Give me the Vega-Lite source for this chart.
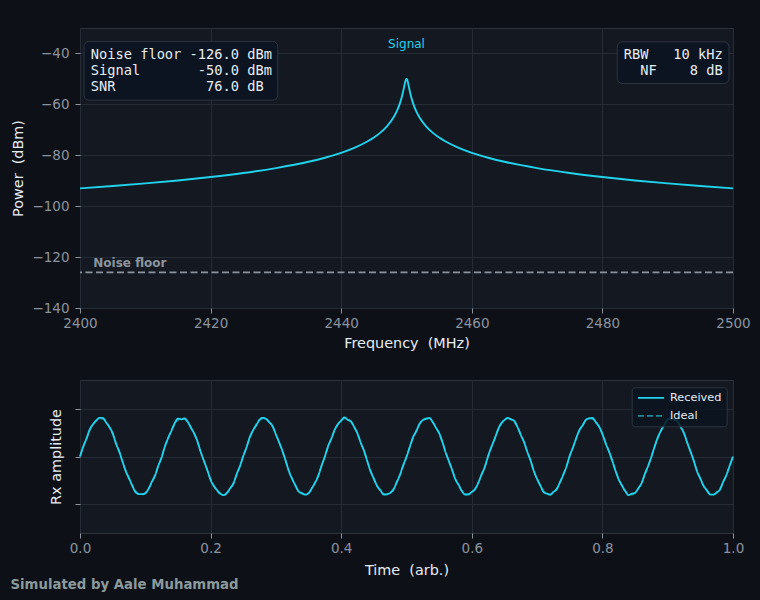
{
  "$schema": "https://vega.github.io/schema/vega-lite/v6.json",
  "background": "#0d1117",
  "padding": {"left": 10, "top": 27, "right": 10, "bottom": 10},
  "autosize": {"type": "pad"},
  "title": {
    "text": "Simulated by Aale Muhammad",
    "orient": "bottom",
    "anchor": "start",
    "frame": "bounds",
    "font": "DejaVu Sans",
    "fontSize": 13.3,
    "fontWeight": "bold",
    "color": "#8b9a9c",
    "offset": 1
  },
  "datasets": {
    "spectrum": [
      {"f": 2400, "p": -93.0}, {"f": 2405, "p": -92.09}, {"f": 2410, "p": -91.06},
      {"f": 2415, "p": -89.9}, {"f": 2420, "p": -88.56}, {"f": 2425, "p": -86.98},
      {"f": 2430, "p": -85.04}, {"f": 2435, "p": -82.55}, {"f": 2437.5, "p": -80.96},
      {"f": 2440, "p": -79.03}, {"f": 2442, "p": -77.09}, {"f": 2444, "p": -74.6},
      {"f": 2445, "p": -73.02}, {"f": 2446, "p": -71.1}, {"f": 2447, "p": -68.62},
      {"f": 2448, "p": -65.17}, {"f": 2448.5, "p": -62.78}, {"f": 2449, "p": -59.53},
      {"f": 2449.25, "p": -57.4}, {"f": 2449.5, "p": -54.76}, {"f": 2449.7, "p": -52.35},
      {"f": 2449.8, "p": -51.2}, {"f": 2449.9, "p": -50.33}, {"f": 2450, "p": -50.0},
      {"f": 2450.1, "p": -50.33}, {"f": 2450.2, "p": -51.2}, {"f": 2450.3, "p": -52.35},
      {"f": 2450.5, "p": -54.76}, {"f": 2450.75, "p": -57.4}, {"f": 2451, "p": -59.53},
      {"f": 2451.5, "p": -62.78}, {"f": 2452, "p": -65.17}, {"f": 2453, "p": -68.62},
      {"f": 2454, "p": -71.1}, {"f": 2455, "p": -73.02}, {"f": 2456, "p": -74.6},
      {"f": 2458, "p": -77.09}, {"f": 2460, "p": -79.03}, {"f": 2462.5, "p": -80.96},
      {"f": 2465, "p": -82.55}, {"f": 2470, "p": -85.04}, {"f": 2475, "p": -86.98},
      {"f": 2480, "p": -88.56}, {"f": 2485, "p": -89.9}, {"f": 2490, "p": -91.06},
      {"f": 2495, "p": -92.09}, {"f": 2500, "p": -93.0}
    ],
    "floor": [{"level": -126}],
    "wave": [
      {"t": 0.000, "Received": 0.000, "Ideal": 0.000},
      {"t": 0.005, "Received": 0.209, "Ideal": 0.199},
      {"t": 0.010, "Received": 0.375, "Ideal": 0.385},
      {"t": 0.015, "Received": 0.568, "Ideal": 0.548},
      {"t": 0.020, "Received": 0.675, "Ideal": 0.675},
      {"t": 0.025, "Received": 0.751, "Ideal": 0.761},
      {"t": 0.030, "Received": 0.808, "Ideal": 0.798},
      {"t": 0.035, "Received": 0.806, "Ideal": 0.786},
      {"t": 0.040, "Received": 0.714, "Ideal": 0.724},
      {"t": 0.045, "Received": 0.616, "Ideal": 0.616},
      {"t": 0.050, "Received": 0.490, "Ideal": 0.470},
      {"t": 0.055, "Received": 0.274, "Ideal": 0.294},
      {"t": 0.060, "Received": 0.110, "Ideal": 0.100},
      {"t": 0.065, "Received": -0.100, "Ideal": -0.100},
      {"t": 0.070, "Received": -0.304, "Ideal": -0.294},
      {"t": 0.075, "Received": -0.450, "Ideal": -0.470},
      {"t": 0.080, "Received": -0.606, "Ideal": -0.616},
      {"t": 0.085, "Received": -0.744, "Ideal": -0.724},
      {"t": 0.090, "Received": -0.786, "Ideal": -0.786},
      {"t": 0.095, "Received": -0.788, "Ideal": -0.798},
      {"t": 0.100, "Received": -0.771, "Ideal": -0.761},
      {"t": 0.105, "Received": -0.675, "Ideal": -0.675},
      {"t": 0.110, "Received": -0.528, "Ideal": -0.548},
      {"t": 0.115, "Received": -0.395, "Ideal": -0.385},
      {"t": 0.120, "Received": -0.189, "Ideal": -0.199},
      {"t": 0.125, "Received": -0.020, "Ideal": 0.000},
      {"t": 0.130, "Received": 0.209, "Ideal": 0.199},
      {"t": 0.135, "Received": 0.385, "Ideal": 0.385},
      {"t": 0.140, "Received": 0.538, "Ideal": 0.548},
      {"t": 0.145, "Received": 0.695, "Ideal": 0.675},
      {"t": 0.150, "Received": 0.791, "Ideal": 0.761},
      {"t": 0.155, "Received": 0.778, "Ideal": 0.798},
      {"t": 0.160, "Received": 0.796, "Ideal": 0.786},
      {"t": 0.165, "Received": 0.724, "Ideal": 0.724},
      {"t": 0.170, "Received": 0.596, "Ideal": 0.616},
      {"t": 0.175, "Received": 0.480, "Ideal": 0.470},
      {"t": 0.180, "Received": 0.314, "Ideal": 0.294},
      {"t": 0.185, "Received": 0.090, "Ideal": 0.100},
      {"t": 0.190, "Received": -0.100, "Ideal": -0.100},
      {"t": 0.195, "Received": -0.284, "Ideal": -0.294},
      {"t": 0.200, "Received": -0.490, "Ideal": -0.470},
      {"t": 0.205, "Received": -0.616, "Ideal": -0.616},
      {"t": 0.210, "Received": -0.704, "Ideal": -0.724},
      {"t": 0.215, "Received": -0.776, "Ideal": -0.786},
      {"t": 0.220, "Received": -0.808, "Ideal": -0.798},
      {"t": 0.225, "Received": -0.761, "Ideal": -0.761},
      {"t": 0.230, "Received": -0.665, "Ideal": -0.675},
      {"t": 0.235, "Received": -0.568, "Ideal": -0.548},
      {"t": 0.240, "Received": -0.365, "Ideal": -0.385},
      {"t": 0.245, "Received": -0.199, "Ideal": -0.199},
      {"t": 0.250, "Received": 0.010, "Ideal": 0.000},
      {"t": 0.255, "Received": 0.189, "Ideal": 0.199},
      {"t": 0.260, "Received": 0.405, "Ideal": 0.385},
      {"t": 0.265, "Received": 0.548, "Ideal": 0.548},
      {"t": 0.270, "Received": 0.655, "Ideal": 0.675},
      {"t": 0.275, "Received": 0.771, "Ideal": 0.761},
      {"t": 0.280, "Received": 0.808, "Ideal": 0.798},
      {"t": 0.285, "Received": 0.786, "Ideal": 0.786},
      {"t": 0.290, "Received": 0.714, "Ideal": 0.724},
      {"t": 0.295, "Received": 0.636, "Ideal": 0.616},
      {"t": 0.300, "Received": 0.460, "Ideal": 0.470},
      {"t": 0.305, "Received": 0.294, "Ideal": 0.294},
      {"t": 0.310, "Received": 0.120, "Ideal": 0.100},
      {"t": 0.315, "Received": -0.090, "Ideal": -0.100},
      {"t": 0.320, "Received": -0.314, "Ideal": -0.294},
      {"t": 0.325, "Received": -0.470, "Ideal": -0.470},
      {"t": 0.330, "Received": -0.606, "Ideal": -0.616},
      {"t": 0.335, "Received": -0.734, "Ideal": -0.724},
      {"t": 0.340, "Received": -0.766, "Ideal": -0.786},
      {"t": 0.345, "Received": -0.798, "Ideal": -0.798},
      {"t": 0.350, "Received": -0.771, "Ideal": -0.761},
      {"t": 0.355, "Received": -0.665, "Ideal": -0.675},
      {"t": 0.360, "Received": -0.548, "Ideal": -0.548},
      {"t": 0.365, "Received": -0.405, "Ideal": -0.385},
      {"t": 0.370, "Received": -0.189, "Ideal": -0.199},
      {"t": 0.375, "Received": 0.000, "Ideal": 0.000},
      {"t": 0.380, "Received": 0.219, "Ideal": 0.199},
      {"t": 0.385, "Received": 0.375, "Ideal": 0.385},
      {"t": 0.390, "Received": 0.558, "Ideal": 0.548},
      {"t": 0.395, "Received": 0.675, "Ideal": 0.675},
      {"t": 0.400, "Received": 0.751, "Ideal": 0.761},
      {"t": 0.405, "Received": 0.818, "Ideal": 0.798},
      {"t": 0.410, "Received": 0.766, "Ideal": 0.786},
      {"t": 0.415, "Received": 0.734, "Ideal": 0.724},
      {"t": 0.420, "Received": 0.616, "Ideal": 0.616},
      {"t": 0.425, "Received": 0.480, "Ideal": 0.470},
      {"t": 0.430, "Received": 0.284, "Ideal": 0.294},
      {"t": 0.435, "Received": 0.120, "Ideal": 0.100},
      {"t": 0.440, "Received": -0.100, "Ideal": -0.100},
      {"t": 0.445, "Received": -0.314, "Ideal": -0.294},
      {"t": 0.450, "Received": -0.460, "Ideal": -0.470},
      {"t": 0.455, "Received": -0.616, "Ideal": -0.616},
      {"t": 0.460, "Received": -0.704, "Ideal": -0.724},
      {"t": 0.465, "Received": -0.796, "Ideal": -0.786},
      {"t": 0.470, "Received": -0.788, "Ideal": -0.798},
      {"t": 0.475, "Received": -0.761, "Ideal": -0.761},
      {"t": 0.480, "Received": -0.695, "Ideal": -0.675},
      {"t": 0.485, "Received": -0.538, "Ideal": -0.548},
      {"t": 0.490, "Received": -0.385, "Ideal": -0.385},
      {"t": 0.495, "Received": -0.179, "Ideal": -0.199},
      {"t": 0.500, "Received": -0.010, "Ideal": 0.000},
      {"t": 0.505, "Received": 0.199, "Ideal": 0.199},
      {"t": 0.510, "Received": 0.405, "Ideal": 0.385},
      {"t": 0.515, "Received": 0.528, "Ideal": 0.548},
      {"t": 0.520, "Received": 0.685, "Ideal": 0.675},
      {"t": 0.525, "Received": 0.761, "Ideal": 0.761},
      {"t": 0.530, "Received": 0.788, "Ideal": 0.798},
      {"t": 0.535, "Received": 0.806, "Ideal": 0.786},
      {"t": 0.540, "Received": 0.724, "Ideal": 0.724},
      {"t": 0.545, "Received": 0.606, "Ideal": 0.616},
      {"t": 0.550, "Received": 0.490, "Ideal": 0.470},
      {"t": 0.555, "Received": 0.304, "Ideal": 0.294},
      {"t": 0.560, "Received": 0.080, "Ideal": 0.100},
      {"t": 0.565, "Received": -0.100, "Ideal": -0.100},
      {"t": 0.570, "Received": -0.284, "Ideal": -0.294},
      {"t": 0.575, "Received": -0.480, "Ideal": -0.470},
      {"t": 0.580, "Received": -0.596, "Ideal": -0.616},
      {"t": 0.585, "Received": -0.724, "Ideal": -0.724},
      {"t": 0.590, "Received": -0.796, "Ideal": -0.786},
      {"t": 0.595, "Received": -0.788, "Ideal": -0.798},
      {"t": 0.600, "Received": -0.741, "Ideal": -0.761},
      {"t": 0.605, "Received": -0.685, "Ideal": -0.675},
      {"t": 0.610, "Received": -0.548, "Ideal": -0.548},
      {"t": 0.615, "Received": -0.375, "Ideal": -0.385},
      {"t": 0.620, "Received": -0.219, "Ideal": -0.199},
      {"t": 0.625, "Received": 0.010, "Ideal": 0.000},
      {"t": 0.630, "Received": 0.199, "Ideal": 0.199},
      {"t": 0.635, "Received": 0.365, "Ideal": 0.385},
      {"t": 0.640, "Received": 0.558, "Ideal": 0.548},
      {"t": 0.645, "Received": 0.695, "Ideal": 0.675},
      {"t": 0.650, "Received": 0.761, "Ideal": 0.761},
      {"t": 0.655, "Received": 0.808, "Ideal": 0.798},
      {"t": 0.660, "Received": 0.776, "Ideal": 0.786},
      {"t": 0.665, "Received": 0.744, "Ideal": 0.724},
      {"t": 0.670, "Received": 0.616, "Ideal": 0.616},
      {"t": 0.675, "Received": 0.450, "Ideal": 0.470},
      {"t": 0.680, "Received": 0.304, "Ideal": 0.294},
      {"t": 0.685, "Received": 0.100, "Ideal": 0.100},
      {"t": 0.690, "Received": -0.080, "Ideal": -0.100},
      {"t": 0.695, "Received": -0.304, "Ideal": -0.294},
      {"t": 0.700, "Received": -0.470, "Ideal": -0.470},
      {"t": 0.705, "Received": -0.606, "Ideal": -0.616},
      {"t": 0.710, "Received": -0.744, "Ideal": -0.724},
      {"t": 0.715, "Received": -0.776, "Ideal": -0.786},
      {"t": 0.720, "Received": -0.798, "Ideal": -0.798},
      {"t": 0.725, "Received": -0.741, "Ideal": -0.761},
      {"t": 0.730, "Received": -0.685, "Ideal": -0.675},
      {"t": 0.735, "Received": -0.538, "Ideal": -0.548},
      {"t": 0.740, "Received": -0.385, "Ideal": -0.385},
      {"t": 0.745, "Received": -0.209, "Ideal": -0.199},
      {"t": 0.750, "Received": 0.020, "Ideal": 0.000},
      {"t": 0.755, "Received": 0.189, "Ideal": 0.199},
      {"t": 0.760, "Received": 0.385, "Ideal": 0.385},
      {"t": 0.765, "Received": 0.558, "Ideal": 0.548},
      {"t": 0.770, "Received": 0.655, "Ideal": 0.675},
      {"t": 0.775, "Received": 0.771, "Ideal": 0.761},
      {"t": 0.780, "Received": 0.798, "Ideal": 0.798},
      {"t": 0.785, "Received": 0.806, "Ideal": 0.786},
      {"t": 0.790, "Received": 0.714, "Ideal": 0.724},
      {"t": 0.795, "Received": 0.626, "Ideal": 0.616},
      {"t": 0.800, "Received": 0.470, "Ideal": 0.470},
      {"t": 0.805, "Received": 0.274, "Ideal": 0.294},
      {"t": 0.810, "Received": 0.110, "Ideal": 0.100},
      {"t": 0.815, "Received": -0.080, "Ideal": -0.100},
      {"t": 0.820, "Received": -0.294, "Ideal": -0.294},
      {"t": 0.825, "Received": -0.480, "Ideal": -0.470},
      {"t": 0.830, "Received": -0.606, "Ideal": -0.616},
      {"t": 0.835, "Received": -0.724, "Ideal": -0.724},
      {"t": 0.840, "Received": -0.806, "Ideal": -0.786},
      {"t": 0.845, "Received": -0.778, "Ideal": -0.798},
      {"t": 0.850, "Received": -0.761, "Ideal": -0.761},
      {"t": 0.855, "Received": -0.665, "Ideal": -0.675},
      {"t": 0.860, "Received": -0.558, "Ideal": -0.548},
      {"t": 0.865, "Received": -0.365, "Ideal": -0.385},
      {"t": 0.870, "Received": -0.199, "Ideal": -0.199},
      {"t": 0.875, "Received": -0.010, "Ideal": 0.000},
      {"t": 0.880, "Received": 0.209, "Ideal": 0.199},
      {"t": 0.885, "Received": 0.405, "Ideal": 0.385},
      {"t": 0.890, "Received": 0.548, "Ideal": 0.548},
      {"t": 0.895, "Received": 0.665, "Ideal": 0.675},
      {"t": 0.900, "Received": 0.781, "Ideal": 0.761},
      {"t": 0.905, "Received": 0.798, "Ideal": 0.798},
      {"t": 0.910, "Received": 0.766, "Ideal": 0.786},
      {"t": 0.915, "Received": 0.734, "Ideal": 0.724},
      {"t": 0.920, "Received": 0.616, "Ideal": 0.616},
      {"t": 0.925, "Received": 0.490, "Ideal": 0.470},
      {"t": 0.930, "Received": 0.284, "Ideal": 0.294},
      {"t": 0.935, "Received": 0.100, "Ideal": 0.100},
      {"t": 0.940, "Received": -0.090, "Ideal": -0.100},
      {"t": 0.945, "Received": -0.314, "Ideal": -0.294},
      {"t": 0.950, "Received": -0.460, "Ideal": -0.470},
      {"t": 0.955, "Received": -0.616, "Ideal": -0.616},
      {"t": 0.960, "Received": -0.704, "Ideal": -0.724},
      {"t": 0.965, "Received": -0.796, "Ideal": -0.786},
      {"t": 0.970, "Received": -0.798, "Ideal": -0.798},
      {"t": 0.975, "Received": -0.751, "Ideal": -0.761},
      {"t": 0.980, "Received": -0.695, "Ideal": -0.675},
      {"t": 0.985, "Received": -0.528, "Ideal": -0.548},
      {"t": 0.990, "Received": -0.385, "Ideal": -0.385},
      {"t": 0.995, "Received": -0.189, "Ideal": -0.199},
      {"t": 1.000, "Received": 0.000, "Ideal": 0.000}
    ]
  },
  "spacing": 28,
  "vconcat": [
    {
      "width": 653,
      "height": 280,
      "layer": [
        {
          "data": {"name": "spectrum"},
          "mark": {"type": "line", "color": "#22d3ee", "strokeWidth": 1.9, "interpolate": "monotone"},
          "encoding": {
            "x": {
              "field": "f",
              "type": "quantitative",
              "scale": {"domain": [2400, 2500], "nice": false},
              "axis": {"values": [2400, 2420, 2440, 2460, 2480, 2500], "format": "d", "title": "Frequency\u00a0 (MHz)", "labelPadding": 3, "titlePadding": 7}
            },
            "y": {
              "field": "p",
              "type": "quantitative",
              "scale": {"domain": [-140, -30], "nice": false},
              "axis": {"values": [-140, -120, -100, -80, -60, -40], "title": "Power\u00a0 (dBm)", "labelPadding": 6, "titlePadding": 6}
            }
          }
        },
        {
          "data": {"name": "floor"},
          "mark": {"type": "rule", "color": "#8b949e", "strokeWidth": 1.6, "strokeDash": [7, 3.5]},
          "encoding": {
            "y": {"field": "level", "type": "quantitative", "title": "Power\u00a0 (dBm)"}
          }
        },
        {
          "data": {"values": [{}]},
          "mark": {"type": "text", "text": "Noise floor", "font": "DejaVu Sans", "fontSize": 12, "fontWeight": "bold", "color": "#8b949e", "align": "left", "baseline": "alphabetic"},
          "encoding": {
            "x": {"datum": 2402.04, "title": "Frequency\u00a0 (MHz)"},
            "y": {"datum": -123.85, "title": "Power\u00a0 (dBm)"}
          }
        },
        {
          "data": {"values": [{}]},
          "mark": {"type": "text", "text": "Signal", "font": "DejaVu Sans", "fontSize": 12, "color": "#22d3ee", "align": "center", "baseline": "alphabetic"},
          "encoding": {
            "x": {"datum": 2450, "title": "Frequency\u00a0 (MHz)"},
            "y": {"datum": -37.9, "title": "Power\u00a0 (dBm)"}
          }
        },
        {
          "data": {"values": [{}]},
          "mark": {"type": "rect", "fill": "#0b1420", "stroke": "#2d3541", "strokeWidth": 1, "cornerRadius": 5},
          "encoding": {
            "x": {"datum": 2400.61, "title": "Frequency\u00a0 (MHz)"},
            "x2": {"datum": 2430.28},
            "y": {"datum": -35.28, "title": "Power\u00a0 (dBm)"},
            "y2": {"datum": -58.35}
          }
        },
        {
          "data": {"values": [{}]},
          "mark": {
            "type": "text",
            "text": ["Noise floor -126.0 dBm", "Signal\u00a0\u00a0\u00a0\u00a0\u00a0\u00a0\u00a0-50.0 dBm", "SNR\u00a0\u00a0\u00a0\u00a0\u00a0\u00a0\u00a0\u00a0\u00a0\u00a0\u00a076.0 dB"],
            "font": "DejaVu Sans Mono",
            "fontSize": 13.7,
            "lineHeight": 16,
            "color": "#e6edf3",
            "align": "left",
            "baseline": "alphabetic"
          },
          "encoding": {
            "x": {"datum": 2401.64, "title": "Frequency\u00a0 (MHz)"},
            "y": {"datum": -42.36, "title": "Power\u00a0 (dBm)"}
          }
        },
        {
          "data": {"values": [{}]},
          "mark": {"type": "rect", "fill": "#0b1420", "stroke": "#2d3541", "strokeWidth": 1, "cornerRadius": 5},
          "encoding": {
            "x": {"datum": 2482.28, "title": "Frequency\u00a0 (MHz)"},
            "x2": {"datum": 2499.39},
            "y": {"datum": -35.44, "title": "Power\u00a0 (dBm)"},
            "y2": {"datum": -51.79}
          }
        },
        {
          "data": {"values": [{}]},
          "mark": {
            "type": "text",
            "text": ["RBW\u00a0\u00a0\u00a010 kHz", "\u00a0\u00a0NF\u00a0\u00a0\u00a0\u00a08 dB"],
            "font": "DejaVu Sans Mono",
            "fontSize": 13.7,
            "lineHeight": 16,
            "color": "#e6edf3",
            "align": "right",
            "baseline": "alphabetic"
          },
          "encoding": {
            "x": {"datum": 2498.42, "title": "Frequency\u00a0 (MHz)"},
            "y": {"datum": -42.36, "title": "Power\u00a0 (dBm)"}
          }
        }
      ]
    },
    {
      "width": 653,
      "height": 153,
      "data": {"name": "wave"},
      "layer": [
        {
          "mark": {"type": "line", "strokeWidth": 1.6, "interpolate": "monotone"},
          "encoding": {
            "x": {
              "field": "t",
              "type": "quantitative",
              "scale": {"domain": [0, 1], "nice": false},
              "axis": {"values": [0, 0.2, 0.4, 0.6, 0.8, 1], "format": ".1f", "title": "Time\u00a0 (arb.)", "labelPadding": 3, "titlePadding": 9}
            },
            "y": {
              "field": "Ideal",
              "type": "quantitative",
              "scale": {"domain": [-1.6, 1.6], "nice": false},
              "axis": {"values": [-1, 0, 1], "labels": false, "title": "Rx amplitude", "titlePadding": 11}
            },
            "color": {
              "datum": "Ideal",
              "type": "nominal",
              "scale": {"domain": ["Received", "Ideal"], "range": ["#22d3ee", "#1b8a94"]},
              "legend": {"title": null, "orient": "none", "legendX": 551.7, "legendY": 359.3}
            },
            "strokeDash": {
              "datum": "Ideal",
              "type": "nominal",
              "scale": {"domain": ["Received", "Ideal"], "range": [[1, 0], [6, 3]]},
              "legend": {"title": null, "orient": "none", "legendX": 551.7, "legendY": 359.3}
            }
          }
        },
        {
          "mark": {"type": "line", "strokeWidth": 1.8, "interpolate": "monotone"},
          "encoding": {
            "x": {"field": "t", "type": "quantitative", "title": "Time\u00a0 (arb.)"},
            "y": {"field": "Received", "type": "quantitative", "title": "Rx amplitude"},
            "color": {"datum": "Received", "type": "nominal"},
            "strokeDash": {"datum": "Received", "type": "nominal"}
          }
        }
      ]
    }
  ],
  "config": {
    "view": {"fill": "#141821", "stroke": "#2d333b", "strokeWidth": 1},
    "axis": {
      "domain": false,
      "grid": true,
      "gridColor": "#262c35",
      "tickColor": "#8b949e",
      "tickSize": 5,
      "labelColor": "#8b949e",
      "titleColor": "#e6edf3",
      "labelFont": "DejaVu Sans",
      "titleFont": "DejaVu Sans",
      "labelFontSize": 13.5,
      "titleFontSize": 14.4,
      "titleFontWeight": "normal",
      "labelOverlap": false,
      "labelFlush": false
    },
    "legend": {
      "fillColor": "rgba(11,20,32,0.85)",
      "strokeColor": "#2d3541",
      "cornerRadius": 3,
      "padding": 5,
      "labelColor": "#e6edf3",
      "labelFont": "DejaVu Sans",
      "labelFontSize": 11.3,
      "symbolType": "M-1,0H5",
      "symbolSize": 76,
      "symbolStrokeWidth": 1.8,
      "labelOffset": 22,
      "rowPadding": 6
    }
  }
}
